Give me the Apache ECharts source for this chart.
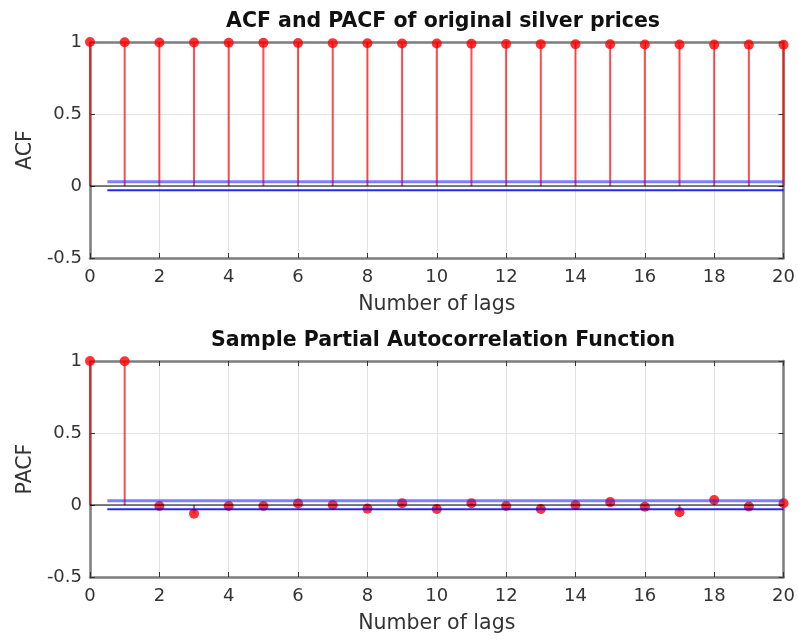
<!DOCTYPE html>
<html><head><meta charset="utf-8">
<script src="https://cdn.jsdelivr.net/npm/echarts@6/dist/echarts.min.js"></script>
<style>html,body{margin:0;padding:0;background:#fff}#c{width:798px;height:642px}</style>
</head><body><div id="c"></div>
<script>
// ---- data ----
const lags = [0,1,2,3,4,5,6,7,8,9,10,11,12,13,14,15,16,17,18,19,20];
const acfValues = [1.000,0.998,0.997,0.996,0.995,0.994,0.993,0.992,0.991,0.990,0.989,0.988,0.986,0.985,0.984,0.984,0.983,0.983,0.982,0.982,0.981];
const pacfValues = [1.000,0.998,-0.007,-0.060,-0.007,-0.007,0.010,0.000,-0.025,0.012,-0.028,0.012,-0.007,-0.028,0.000,0.020,-0.012,-0.050,0.035,-0.010,0.012];
const boundLags = [0.5, 20];
const zeroLags = [0, 20];
const confBound = 0.03;
const titles = ['ACF and PACF of original silver prices', 'Sample Partial Autocorrelation Function'];
const yNames = ['ACF', 'PACF'];
const xName = 'Number of lags';

// ---- layout ----
const FONT = 'DejaVu Sans';
const grids = [
  {left: 90, top: 42, width: 696, height: 216},
  {left: 90, top: 361, width: 696, height: 216}
];
const frame = {show: true, onZero: false, lineStyle: {color: '#7d7d7d', width: 2.5}};
const tick = {show: true, inside: true, length: 5, lineStyle: {color: '#333', width: 1}};

const option = {
  animation: false,
  backgroundColor: '#fff',
  title: titles.map((t, i) => ({
    text: t, left: 438, top: i === 0 ? 6 : 325, textAlign: 'center',
    textStyle: {fontFamily: FONT, fontWeight: 'bold', fontSize: 20.5, color: '#111'}
  })),
  grid: grids.map(g => Object.assign({show: false}, g)),
  xAxis: [0, 1].flatMap(i => ([
    {
      type: 'value', gridIndex: i, min: 0, max: 20, interval: 2, position: 'bottom',
      name: xName, nameLocation: 'middle', nameGap: 36,
      nameTextStyle: {fontFamily: FONT, fontSize: 20.5, color: '#333'},
      axisLine: frame, axisTick: tick,
      axisLabel: {fontFamily: FONT, fontSize: 18, color: '#333', margin: 10},
      splitLine: {show: true, lineStyle: {color: '#e3e3e3', width: 1}}
    },
    {
      type: 'value', gridIndex: i, min: 0, max: 20, interval: 2, position: 'top',
      axisLine: frame, axisTick: tick, axisLabel: {show: false}, splitLine: {show: false}
    }
  ])),
  yAxis: [0, 1].flatMap(i => ([
    {
      type: 'value', gridIndex: i, min: -0.5, max: 1, interval: 0.5, position: 'left',
      name: yNames[i], nameLocation: 'middle', nameGap: 53,
      nameTextStyle: {fontFamily: FONT, fontSize: 20.5, color: '#333'},
      axisLine: frame, axisTick: tick,
      axisLabel: {fontFamily: FONT, fontSize: 18, color: '#333', margin: 8},
      splitLine: {show: true, lineStyle: {color: '#e3e3e3', width: 1}}
    },
    {
      type: 'value', gridIndex: i, min: -0.5, max: 1, interval: 0.5, position: 'right',
      axisLine: frame, axisTick: tick, axisLabel: {show: false}, splitLine: {show: false}
    }
  ])),
  series: []
};

[acfValues, pacfValues].forEach((vals, i) => {
  const pts = lags.map((l, k) => [l, vals[k]]);
  const ax = {xAxisIndex: i * 2, yAxisIndex: i * 2};
  option.series.push(Object.assign({
    type: 'bar', data: pts, barWidth: 2,
    itemStyle: {color: 'rgba(255,0,0,0.7)'}, z: 2, silent: true
  }, ax));
  option.series.push(Object.assign({
    type: 'scatter', data: pts, clip: false,
    symbol: 'circle', symbolSize: 10, itemStyle: {color: '#ff0000'}, z: 3, silent: true
  }, ax));
  option.series.push(Object.assign({
    type: 'line', data: zeroLags.map(x => [x, 0]), showSymbol: false, symbol: 'none',
    lineStyle: {color: '#000', width: 1}, z: 4, silent: true
  }, ax));
  option.series.push(Object.assign({
    type: 'line', data: boundLags.map(x => [x, confBound]), showSymbol: false, symbol: 'none',
    lineStyle: {color: 'rgba(40,40,255,0.6)', width: 3}, z: 5, silent: true
  }, ax));
  option.series.push(Object.assign({
    type: 'line', data: boundLags.map(x => [x, -confBound]), showSymbol: false, symbol: 'none',
    lineStyle: {color: 'rgba(0,0,255,0.85)', width: 2}, z: 5, silent: true
  }, ax));
});

const chart = echarts.init(document.getElementById('c'), null, {renderer: 'canvas'});
chart.setOption(option);
</script>
</body></html>
